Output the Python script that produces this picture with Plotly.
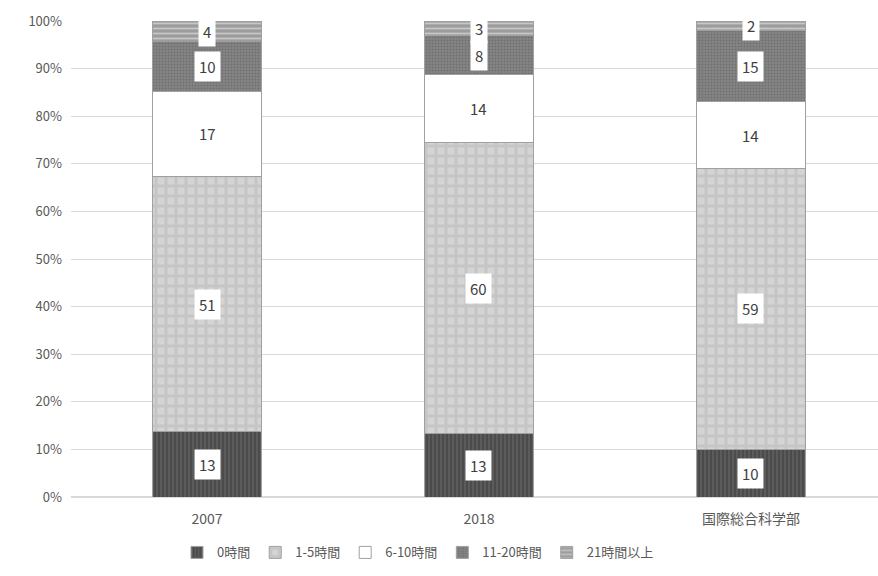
import plotly.graph_objects as go

categories = ["2007", "2018", "国際総合科学部"]
series_names = ["0時間", "1-5時間", "6-10時間", "11-20時間", "21時間以上"]
v_0h = [13, 13, 10]
v_1_5h = [51, 60, 59]
v_6_10h = [17, 14, 14]
v_11_20h = [10, 8, 15]
v_21h = [4, 3, 2]
series_values = [v_0h, v_1_5h, v_6_10h, v_11_20h, v_21h]
y_ticks = [0, 10, 20, 30, 40, 50, 60, 70, 80, 90, 100]
y_tick_labels = [f"{t}%" for t in y_ticks]

styles = [
    dict(bg="#4b4b4b", fg="#777777", shape="|", size=4, solidity=0.35),
    dict(bg="#d4d4d4", fg="#b6b6b6", shape="+", size=10, solidity=0.5),
    dict(bg="#ffffff", fg="#ffffff", shape="", size=8, solidity=0.3),
    dict(bg="#858585", fg="#5c5c5c", shape=".", size=3, solidity=0.4),
    dict(bg="#9c9c9c", fg="#f2f2f2", shape="-", size=5, solidity=0.35),
]

font_family = "Noto Sans CJK JP, Noto Sans, sans-serif"
text_color = "#595959"

fig = go.Figure()
for name, vals, st in zip(series_names, series_values, styles):
    fig.add_trace(go.Bar(
        name=name, x=categories, y=vals, width=0.4,
        marker=dict(
            color=st["bg"],
            line=dict(color="#a0a0a0", width=1),
            pattern=dict(shape=st["shape"], fgcolor=st["fg"], bgcolor=st["bg"],
                         size=st["size"], solidity=st["solidity"], fillmode="overlay"),
        ),
        hoverinfo="skip",
    ))

# value labels centred on each normalised segment
totals = [sum(col) for col in zip(*series_values)]
for i in range(len(categories)):
    base = 0.0
    for vals in series_values:
        share = vals[i] / totals[i] * 100
        fig.add_annotation(
            x=i, y=base + share / 2, xref="x", yref="y",
            text=str(vals[i]), showarrow=False,
            bgcolor="#ffffff", borderpad=4,
            font=dict(family=font_family, size=15, color="#404040"),
        )
        base += share

fig.update_layout(
    barmode="stack", barnorm="percent",
    width=878, height=576,
    margin=dict(l=71, r=0, t=21, b=79),
    paper_bgcolor="#ffffff", plot_bgcolor="#ffffff",
    font=dict(family=font_family, size=13, color=text_color),
    showlegend=True,
    legend=dict(orientation="h", x=0.43, xanchor="center", y=-0.085, yanchor="top",
                font=dict(size=13, color=text_color), itemwidth=30,
                traceorder="normal"),
)
fig.update_xaxes(type="category", range=[-0.5, 2.467], showline=False, ticks="",
                 showgrid=False, ticklabelstandoff=12,
                 tickfont=dict(size=14, color=text_color))
fig.update_yaxes(range=[0, 100], tickvals=y_ticks, ticktext=y_tick_labels,
                 showgrid=True, gridcolor="#d9d9d9", gridwidth=1,
                 zeroline=True, zerolinecolor="#d9d9d9", showline=False,
                 tickfont=dict(size=13, color=text_color), ticklabelstandoff=8)

fig.write_html("out.html")
